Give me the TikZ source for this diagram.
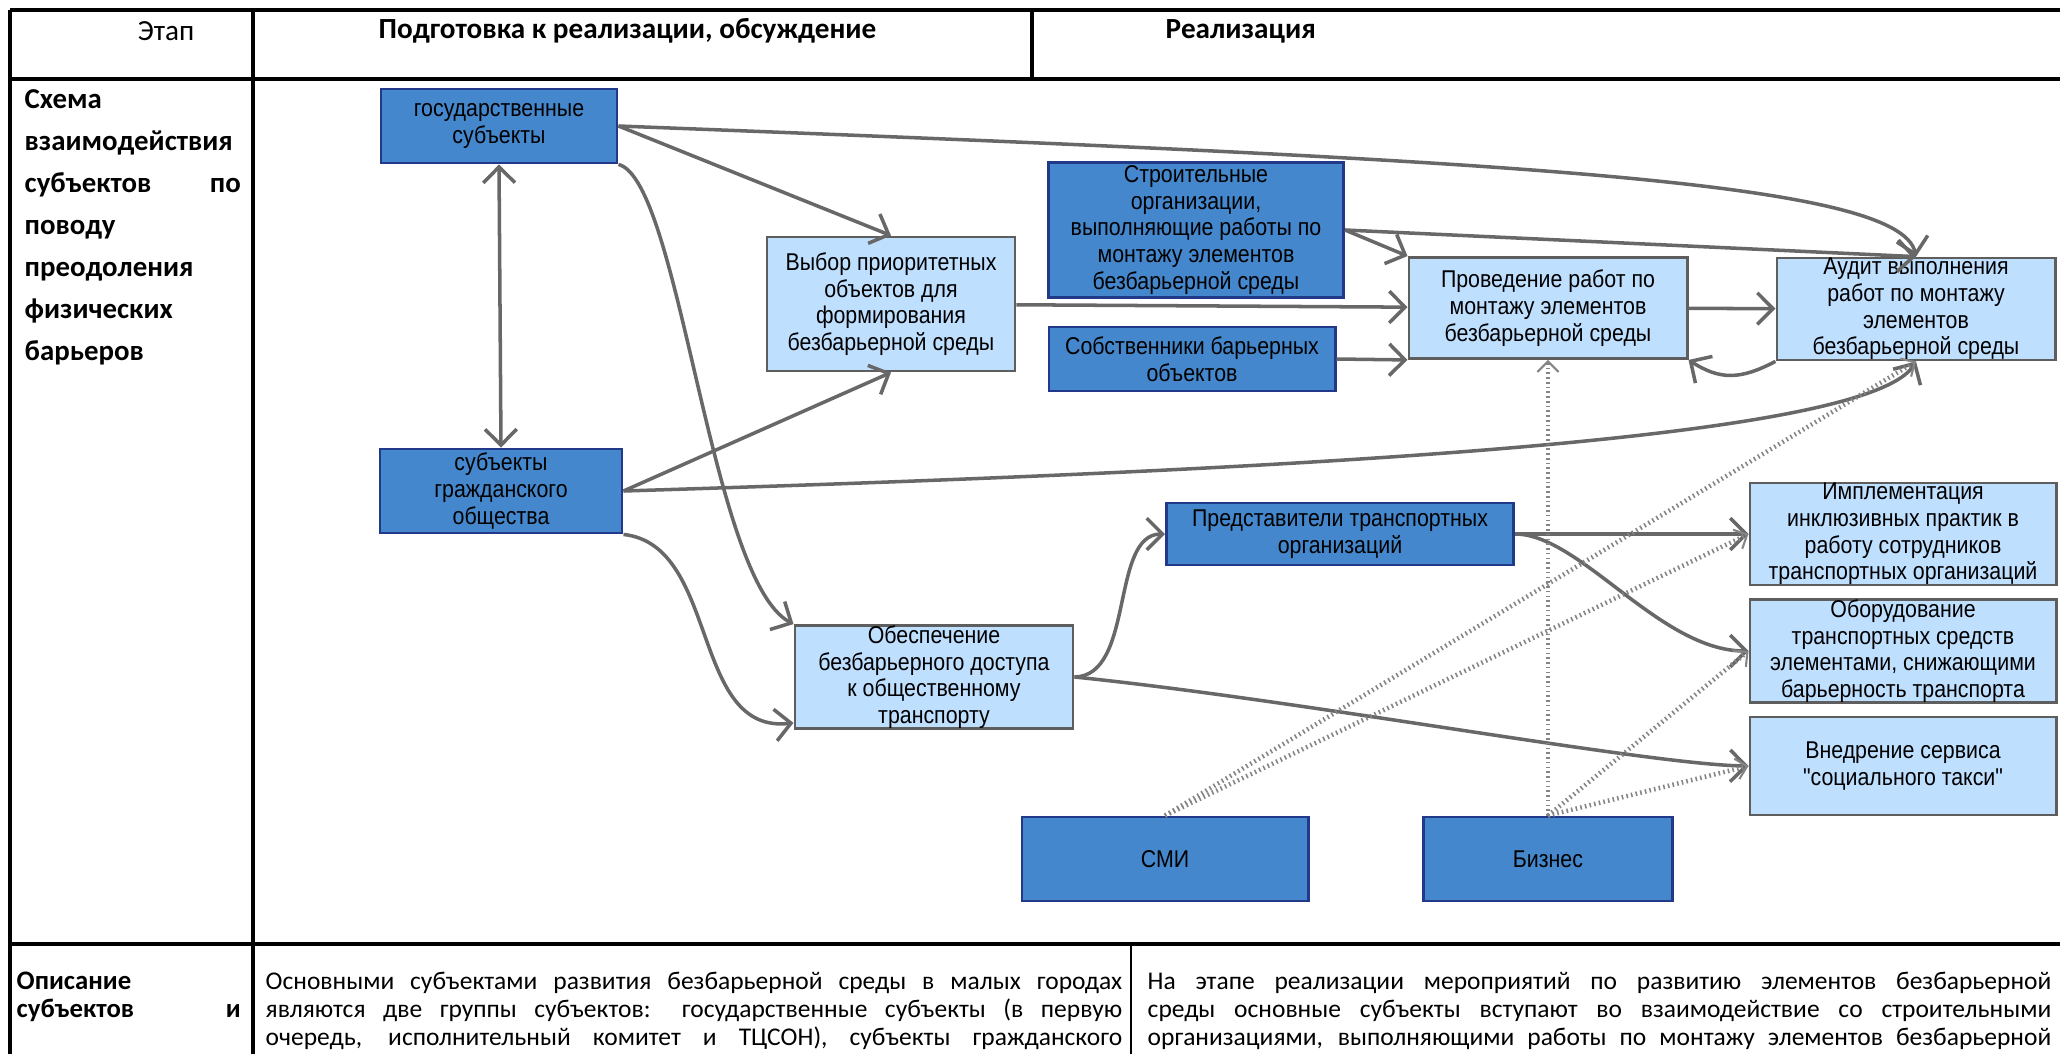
\documentclass[tikz,border=0pt]{standalone}
\usepackage{fontspec}
\setmainfont{Carlito}
\newfontfamily\boxfont[FakeStretch=0.88]{Liberation Sans}
\usetikzlibrary{arrows.meta}
\definecolor{subjblue}{HTML}{4487CC}
\definecolor{subjedge}{HTML}{22398A}
\definecolor{actblue}{HTML}{BFDFFF}
\definecolor{actedge}{HTML}{5E5E5E}
\definecolor{linkgray}{HTML}{686868}
\definecolor{hintgray}{HTML}{858585}
\newcommand{\jline}[2]{\makebox[#1][s]{\spaceskip=0pt\xspaceskip=0pt #2}}

\begin{document}
\begin{tikzpicture}[x=0.01cm, y=-0.01cm,
                rule/.style={line width=1pt},
                cell/.style={inner sep=0pt, anchor=base west, align=left, font=\fontsize{7.25}{7.97}\selectfont},
                side/.style={inner sep=0pt, anchor=base west, align=left, text width=2.16cm, font=\bfseries\fontsize{8.2}{11.95}\selectfont},
                head/.style={inner sep=0pt, font=\fontsize{8.3}{9}\selectfont},
                subj/.style={draw=subjedge, fill=subjblue, line width=0.8pt, inner sep=0pt, align=center, font=\boxfont\fontsize{6.9}{7.6}\selectfont},
                act/.style={draw=actedge, fill=actblue, line width=0.8pt, inner sep=0pt, align=center, font=\boxfont\fontsize{6.9}{7.6}\selectfont},
                link/.style={draw=linkgray, line width=1pt, -{Straight Barb[length=4.5pt,width=9pt]}},
                both/.style={link, {Straight Barb[length=4.5pt,width=9pt]}-{Straight Barb[length=4.5pt,width=9pt]}},
                hint/.style={draw=hintgray, line width=1.3pt, dash pattern=on 0.45pt off 0.9pt, -{Straight Barb[length=3pt,width=6pt,line width=0.6pt]}}]

                \useasboundingbox (0,0) rectangle (2060,1054);

                % table
                \draw[rule] (10,10) -- (2060,10);
                \draw[rule] (10,79) -- (2060,79);
                \draw[rule] (10,944) -- (2060,944);
                \draw[rule] (10,10) -- (10,1054);
                \draw[rule] (253,10) -- (253,1054);
                \draw[rule] (1032,10) -- (1032,79);
                \draw[rule, line width=0.7pt] (1131,944) -- (1131,1054);

                \node[head] (stagehead) at (166,31) {Этап};
                \node[head, anchor=west, font=\bfseries\fontsize{8.3}{9}\selectfont] (prephead) at (378,31) {Подготовка к реализации, обсуждение};
                \node[head, anchor=west, font=\bfseries\fontsize{8.3}{9}\selectfont] (realhead) at (1165,31) {Реализация};

                \node[side] (schemehead) at (24,108) {Схема\\взаимодействия\\субъектов\hfill по\\поводу\\преодоления\\физических\\барьеров};
                \node[side, text width=2.24cm, font=\bfseries\fontsize{7.6}{7.97}\selectfont] (deschead) at (16,989) {Описание\\субъектов\hfill и};

                \node[cell, text width=8.56cm] (descprep) at (265,989) {\jline{8.56cm}{Основными субъектами развития безбарьерной среды в малых городах}\\\jline{8.56cm}{являются две группы субъектов: государственные субъекты (в первую}\\\jline{8.56cm}{очередь, исполнительный комитет и ТЦСОН), субъекты гражданского}};
                \node[cell, text width=9.03cm] (descreal) at (1147,989) {\jline{9.03cm}{На этапе реализации мероприятий по развитию элементов безбарьерной}\\\jline{9.03cm}{среды основные субъекты вступают во взаимодействие со строительными}\\\jline{9.03cm}{организациями, выполняющими работы по монтажу элементов безбарьерной}};

                % boxes
                \node[subj, minimum width=2.36cm, minimum height=0.74cm] (gos) at (499,126) {государственные\\субъекты};
                \node[subj, minimum width=2.42cm, minimum height=0.84cm] (grazh) at (501,491) {субъекты\\гражданского\\общества};
                \node[act, minimum width=2.48cm, minimum height=1.34cm] (vybor) at (891,304) {Выбор приоритетных\\объектов для\\формирования\\безбарьерной среды};
                \node[subj, minimum width=2.95cm, minimum height=1.35cm] (stroit) at (1196,230) {Строительные\\организации,\\выполняющие работы по\\монтажу элементов\\безбарьерной среды};
                \node[subj, minimum width=2.86cm, minimum height=0.64cm] (sobstv) at (1192,359) {Собственники барьерных\\объектов};
                \node[act, minimum width=2.78cm, minimum height=1.01cm] (proved) at (1548,308) {Проведение работ по\\монтажу элементов\\безбарьерной среды};
                \node[act, minimum width=2.78cm, minimum height=1.00cm] (audit) at (1916,309) {Аудит выполнения\\работ по монтажу\\элементов\\безбарьерной среды};
                \node[subj, minimum width=3.47cm, minimum height=0.62cm] (pred) at (1340,534) {Представители транспортных\\организаций};
                \node[act, minimum width=2.78cm, minimum height=1.02cm] (obesp) at (934,677) {Обеспечение\\безбарьерного доступа\\к общественному\\транспорту};
                \node[act, minimum width=3.06cm, minimum height=1.00cm] (impl) at (1903,534) {Имплементация\\инклюзивных практик в\\работу сотрудников\\транспортных организаций};
                \node[act, minimum width=3.06cm, minimum height=1.00cm] (oborud) at (1903,651) {Оборудование\\транспортных средств\\элементами, снижающими\\барьерность транспорта};
                \node[act, minimum width=3.06cm, minimum height=0.98cm] (vnedr) at (1903,766) {Внедрение сервиса\\"социального такси"};
                \node[subj, minimum width=2.86cm, minimum height=0.84cm] (smi) at (1165,859) {СМИ};
                \node[subj, minimum width=2.49cm, minimum height=0.84cm] (biz) at (1548,859) {Бизнес};

                % connectors
                \draw[both] (gos.south) -- (grazh.north);
                \draw[link] (gos.east) .. controls (1500,160) and (1900,180) .. (audit.north);
                \draw[link] (gos.east) -- (vybor.north);
                \draw[link] (gos.south east) .. controls (680,180) and (710,580) .. (obesp.north west);
                \draw[link] (grazh.east) -- (vybor.south);
                \draw[link] (grazh.east) .. controls (1300,470) and (1870,440) .. (audit.south);
                \draw[link] (grazh.south east) .. controls (720,545) and (690,735) .. ([yshift=2pt]obesp.south west);
                \draw[link] (vybor) -- (proved);
                \draw[link] (stroit.east) -- (proved.north west);
                \draw[link] (stroit.east) -- (audit.north);
                \draw[link] (sobstv.east) -- (proved.south west);
                \draw[link] (proved) -- (audit);
                \draw[link] (audit.south west) .. controls (1740,380) and (1720,380) .. (proved.south east);
                \draw[link] (obesp.east) .. controls (1135,676) and (1110,534) .. (pred.west);
                \draw[link] (obesp.east) .. controls (1300,700) and (1650,765) .. (vnedr.west);
                \draw[link] (pred) -- (impl);
                \draw[link] (pred.east) .. controls (1580,534) and (1660,651) .. (oborud.west);

                \draw[hint] (biz) -- (proved);
                \draw[hint] (biz.north) -- (oborud.west);
                \draw[hint] (biz.north) -- (vnedr.west);
                \draw[hint] (smi.north) -- (audit.south);
                \draw[hint] (smi.north) -- (impl.west);
            \end{tikzpicture}
\end{document}
